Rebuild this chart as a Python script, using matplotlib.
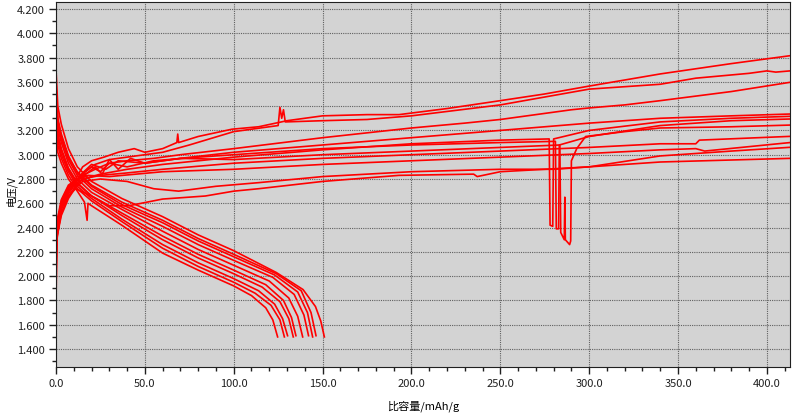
import matplotlib
matplotlib.use("Agg")
import matplotlib.pyplot as plt
from matplotlib.ticker import MultipleLocator, FormatStrFormatter

plt.rcParams['font.family'] = ['Noto Sans CJK SC', 'DejaVu Sans']

# ----------------------------------------------------
# data: discharge curves (capacity mAh/g, voltage V)
# ----------------------------------------------------
discharge_cap = [
    [0, 1, 3, 7, 12, 16, 17.5, 18, 20, 37, 60, 80, 100, 110, 118, 122, 124.7],
    [0, 1, 3, 7, 12, 20, 37, 60, 80, 100, 112, 121, 126, 128.5],
    [0, 1, 3, 7, 12, 20, 37, 60, 80, 100, 114, 123, 127.5, 130.3],
    [0, 1, 3, 7, 12, 20, 37, 60, 80, 100, 116, 126, 131, 133.5],
    [0, 1, 3, 7, 12, 20, 37, 60, 80, 100, 118, 128, 132.5, 135],
    [0, 1, 3, 7, 12, 20, 37, 60, 80, 100, 120, 131, 136, 138.8],
    [0, 1, 3, 7, 12, 20, 37, 60, 80, 100, 122, 134, 139.5, 142.1],
    [0, 1, 3, 7, 12, 20, 37, 60, 80, 100, 123, 136, 141.5, 144.4],
    [0, 1, 3, 7, 12, 20, 37, 60, 80, 100, 124, 138, 143.5, 146.3],
    [0, 1, 3, 7, 12, 20, 37, 60, 80, 100, 124, 139, 146, 149, 151],
]
discharge_volt = [
    [3.22, 3.02, 2.93, 2.80, 2.70, 2.61, 2.46, 2.60, 2.58, 2.42, 2.19, 2.05, 1.92, 1.84, 1.74, 1.64, 1.50],
    [3.30, 3.08, 2.97, 2.83, 2.72, 2.62, 2.45, 2.23, 2.08, 1.95, 1.86, 1.76, 1.64, 1.50],
    [3.35, 3.12, 3.00, 2.86, 2.74, 2.64, 2.47, 2.26, 2.11, 1.98, 1.88, 1.77, 1.65, 1.51],
    [3.45, 3.18, 3.05, 2.89, 2.77, 2.66, 2.50, 2.30, 2.15, 2.02, 1.91, 1.79, 1.65, 1.50],
    [3.40, 3.15, 3.03, 2.88, 2.76, 2.66, 2.52, 2.33, 2.18, 2.05, 1.93, 1.80, 1.66, 1.51],
    [3.50, 3.22, 3.10, 2.93, 2.80, 2.69, 2.55, 2.37, 2.22, 2.09, 1.96, 1.82, 1.67, 1.50],
    [3.55, 3.27, 3.13, 2.96, 2.83, 2.72, 2.57, 2.41, 2.26, 2.13, 1.99, 1.85, 1.68, 1.51],
    [3.60, 3.30, 3.17, 2.99, 2.85, 2.74, 2.59, 2.44, 2.29, 2.16, 2.01, 1.87, 1.70, 1.50],
    [3.52, 3.28, 3.15, 2.98, 2.86, 2.75, 2.61, 2.46, 2.31, 2.18, 2.02, 1.88, 1.70, 1.51],
    [3.70, 3.40, 3.25, 3.05, 2.90, 2.78, 2.64, 2.49, 2.34, 2.21, 2.03, 1.89, 1.75, 1.63, 1.50],
]

# ----------------------------------------------------
# data: charge curves (capacity mAh/g, voltage V)
# ----------------------------------------------------
charge_cap = [
    [0, 0.5, 3, 7, 11, 15, 20, 27, 35, 44, 50, 60, 68, 68.5, 69, 80, 99, 114, 130, 150, 175, 193, 220, 250, 275, 300, 340, 380, 413],
    [0, 0.5, 3, 7, 11, 15, 22, 30, 45, 60, 75, 100, 125, 126, 127, 128, 129, 150, 175, 200, 250, 300, 340, 360, 390, 400, 405, 413],
    [0, 0.5, 3, 7, 11, 15, 22, 30, 40, 55, 70, 100, 150, 200, 230, 250, 270, 290, 300, 320, 340, 380, 413],
    [0, 0.5, 3, 7, 11, 15, 22, 26, 30, 35, 42, 50, 70, 100, 150, 200, 250, 275, 300, 340, 380, 413],
    [0, 0.5, 3, 7, 11, 15, 25, 40, 60, 100, 150, 200, 250, 277.5, 278, 279.5, 280, 300, 340, 380, 413],
    [0, 0.5, 3, 7, 11, 15, 20, 25, 30, 40, 55, 80, 100, 150, 200, 250, 281, 281.5, 282.8, 283.2, 300, 340, 380, 413],
    [0, 0.5, 3, 7, 11, 15, 20, 28, 35, 50, 70, 100, 150, 200, 250, 283.5, 284, 286, 286.3, 286.6, 289, 289.6, 290, 293, 298, 320, 340, 380, 413],
    [0, 0.5, 3, 7, 11, 15, 25, 40, 60, 100, 150, 200, 250, 300, 340, 360, 362, 413],
    [0, 0.5, 3, 7, 11, 18, 30, 45, 60, 80, 100, 150, 200, 250, 300, 340, 360, 365, 413],
    [0, 0.5, 3, 7, 11, 15, 25, 40, 55, 69, 90, 114, 150, 200, 250, 280, 300, 340, 380, 413],
    [0, 0.5, 3, 7, 11, 20, 25, 30, 41, 60, 84, 100, 114, 150, 193, 235, 237, 250, 300, 340, 413],
]
charge_volt = [
    [2.00, 2.35, 2.62, 2.74, 2.80, 2.90, 2.95, 2.98, 3.02, 3.05, 3.02, 3.05, 3.10, 3.17, 3.10, 3.15, 3.21, 3.23, 3.28, 3.32, 3.33, 3.33, 3.38, 3.445, 3.50, 3.565, 3.665, 3.75, 3.815],
    [1.78, 2.30, 2.55, 2.70, 2.77, 2.85, 2.92, 2.96, 2.99, 3.02, 3.08, 3.19, 3.24, 3.39, 3.30, 3.37, 3.27, 3.28, 3.29, 3.32, 3.41, 3.54, 3.58, 3.63, 3.67, 3.69, 3.68, 3.69],
    [2.10, 2.38, 2.58, 2.72, 2.78, 2.83, 2.88, 2.93, 2.95, 2.97, 3.00, 3.05, 3.14, 3.22, 3.26, 3.29, 3.33, 3.37, 3.385, 3.41, 3.445, 3.52, 3.596],
    [2.20, 2.40, 2.60, 2.73, 2.78, 2.82, 2.90, 2.84, 2.96, 2.88, 2.97, 2.93, 2.97, 3.02, 3.08, 3.14, 3.20, 3.23, 3.26, 3.30, 3.32, 3.335],
    [2.25, 2.42, 2.55, 2.68, 2.76, 2.80, 2.84, 2.88, 2.92, 2.98, 3.04, 3.09, 3.12, 3.13, 2.42, 2.41, 3.13, 3.20, 3.27, 3.30, 3.316],
    [2.30, 2.45, 2.63, 2.75, 2.79, 2.84, 2.90, 2.86, 2.93, 2.90, 2.95, 2.98, 3.00, 3.05, 3.08, 3.10, 3.11, 2.39, 2.39, 3.08, 3.15, 3.24, 3.28, 3.294],
    [2.15, 2.36, 2.57, 2.70, 2.77, 2.85, 2.92, 2.88, 2.95, 2.93, 2.97, 2.96, 3.00, 3.03, 3.06, 3.08, 2.36, 2.30, 2.65, 2.30, 2.26, 2.29, 2.95, 3.05, 3.15, 3.19, 3.22, 3.23, 3.244],
    [2.05, 2.33, 2.52, 2.66, 2.74, 2.80, 2.83, 2.85, 2.88, 2.93, 2.97, 3.00, 3.03, 3.06, 3.09, 3.09, 3.12, 3.151],
    [2.28, 2.44, 2.60, 2.72, 2.79, 2.83, 2.82, 2.84, 2.86, 2.87, 2.88, 2.92, 2.95, 2.98, 3.01, 3.04, 3.05, 3.03, 3.10],
    [1.90, 2.32, 2.50, 2.64, 2.73, 2.78, 2.80, 2.78, 2.72, 2.70, 2.74, 2.77, 2.82, 2.86, 2.88, 2.88, 2.90, 2.99, 3.03, 3.061],
    [2.22, 2.40, 2.57, 2.66, 2.72, 2.66, 2.62, 2.58, 2.58, 2.635, 2.66, 2.70, 2.72, 2.78, 2.83, 2.84, 2.82, 2.86, 2.90, 2.94, 2.97],
]

x_label = "比容量/mAh/g"
y_label = "电压/V"

# ----------------------------------------------------
# plot
# ----------------------------------------------------
fig = plt.figure(figsize=(8, 4.14), dpi=100)
ax = fig.add_axes([0.070, 0.111, 0.9175, 0.882])
ax.set_facecolor('#d3d3d3')

for cx, cy in zip(discharge_cap, discharge_volt):
    ax.plot(cx, cy, color='#ff0000', lw=1.2)
for cx, cy in zip(charge_cap, charge_volt):
    ax.plot(cx, cy, color='#ff0000', lw=1.2)

ax.set_xlim(0, 413)
ax.set_ylim(1.252, 4.258)
ax.xaxis.set_major_locator(MultipleLocator(50))
ax.xaxis.set_minor_locator(MultipleLocator(10))
ax.yaxis.set_minor_locator(MultipleLocator(0.1))
ax.xaxis.set_major_formatter(FormatStrFormatter('%.1f'))
ax.yaxis.set_major_formatter(FormatStrFormatter('%.3f'))
ax.set_yticks([1.4 + 0.2 * i for i in range(15)])

ax.grid(True, which='major', color='#606060', linestyle=(0, (1, 1)), linewidth=0.8)
ax.tick_params(which='major', length=5, width=1, labelsize=8, colors='#202020', pad=3)
ax.tick_params(which='minor', length=3, width=1, colors='#202020')
for sp in ax.spines.values():
    sp.set_color('#202020')

ax.set_xlabel(x_label, fontsize=8, labelpad=8)
fig.text(0.014, 0.54, y_label, fontsize=7.5, rotation=90, ha='center', va='center')

fig.savefig("out.png", dpi=100)
